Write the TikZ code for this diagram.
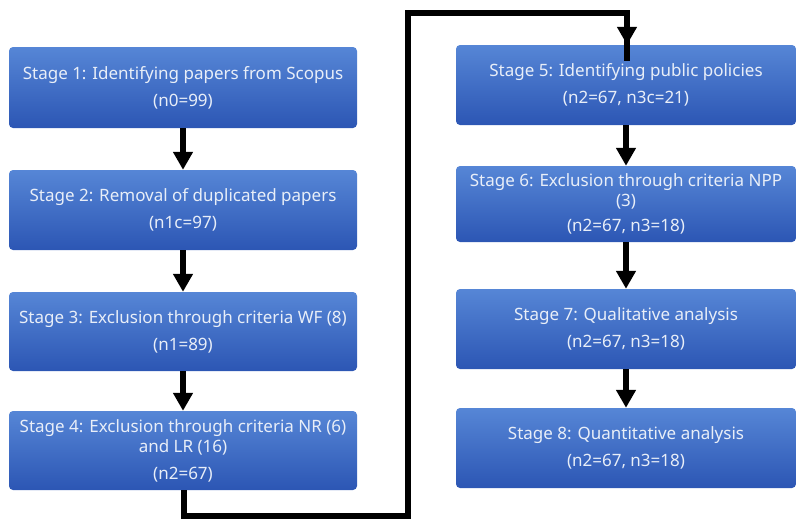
\documentclass[tikz,border=0pt]{standalone}
\usepackage{fontspec}
\setmainfont{Noto Sans}
\usetikzlibrary{arrows.meta}
\definecolor{boxtop}{RGB}{86,134,214}
\definecolor{boxbot}{RGB}{44,86,180}
\definecolor{boxtxt}{RGB}{232,238,248}
\tikzset{
  stagebox/.style={rectangle, rounded corners=4pt, top color=boxtop, bottom color=boxbot,
    draw=none, text=boxtxt, align=center, inner sep=0pt,
    font=\fontsize{17}{20}\selectfont},
  flowarrow/.style={line width=6pt, -{Triangle[width=19pt,length=18pt]}},
  flowline/.style={line width=5.5pt, line join=miter}
}
\begin{document}
\begin{tikzpicture}[x=1pt,y=-1pt]
\useasboundingbox (0,0) rectangle (796,520);
% left column
\node[stagebox, minimum width=348pt, minimum height=81pt] (b1) at (183,87.5) {Stage 1: Identifying papers from Scopus\\[7pt](n0=99)};
\node[stagebox, minimum width=348pt, minimum height=80pt] (b2) at (183,210) {Stage 2: Removal of duplicated papers\\[7pt](n1c=97)};
\node[stagebox, minimum width=348pt, minimum height=79pt] (b3) at (183,331.5) {Stage 3: Exclusion through criteria WF (8)\\[7pt](n1=89)};
\node[stagebox, minimum width=348pt, minimum height=79pt] (b4) at (183,450.5) {Stage 4: Exclusion through criteria NR (6)\\and LR (16)\\[7pt](n2=67)};
% right column
\node[stagebox, minimum width=340pt, minimum height=80pt] (b5) at (626,85) {Stage 5: Identifying public policies\\[7pt](n2=67, n3c=21)};
\node[stagebox, minimum width=340pt, minimum height=76pt] (b6) at (626,204) {Stage 6: Exclusion through criteria NPP\\(3)\\[5pt](n2=67, n3=18)};
\node[stagebox, minimum width=340pt, minimum height=80pt] (b7) at (626,329) {Stage 7: Qualitative analysis\\[7pt](n2=67, n3=18)};
\node[stagebox, minimum width=340pt, minimum height=80pt] (b8) at (626,448) {Stage 8: Quantitative analysis\\[7pt](n2=67, n3=18)};
% arrows
\draw[flowarrow] (b1.south) -- (b2.north);
\draw[flowarrow] (b2.south) -- (b3.north);
\draw[flowarrow] (b3.south) -- (b4.north);
\draw[flowarrow] (b5.south) -- (b6.north);
\draw[flowarrow] (b6.south) -- (b7.north);
\draw[flowarrow] (b7.south) -- (b8.north);
% long connector
\coordinate (c1) at (184,516);
\coordinate (c2) at (408,516);
\coordinate (c3) at (408,13);
\coordinate (c4) at (627,13);
\draw[flowline] ([xshift=1pt]b4.south) -- (c1) -- (c2) -- (c3) -- (c4) -- ([xshift=1pt,yshift=-16pt]b5.north);
\draw[flowarrow] (c4) -- ([xshift=1pt]b5.north);
\end{tikzpicture}
\end{document}
